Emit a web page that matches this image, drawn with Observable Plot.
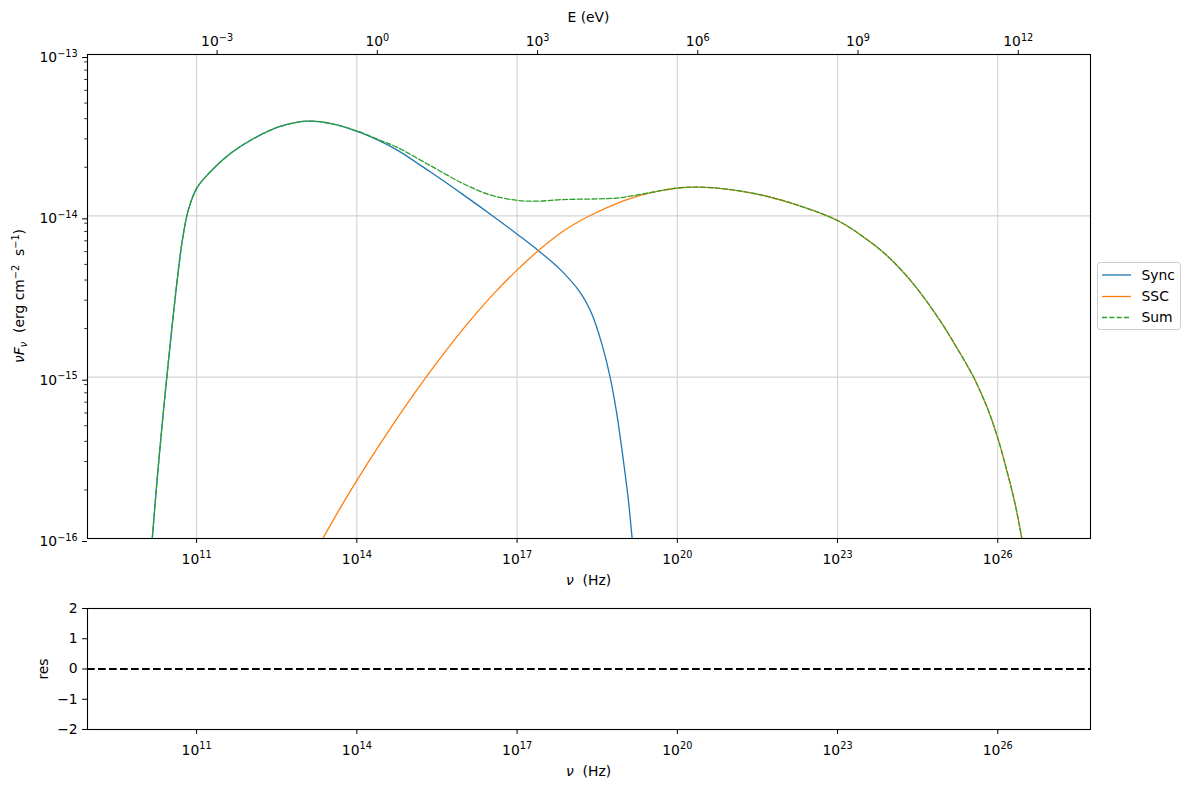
<!DOCTYPE html>
<html>
<head>
<meta charset="utf-8">
<script src="https://cdn.jsdelivr.net/npm/d3@7"></script>
<script src="https://cdn.jsdelivr.net/npm/@observablehq/plot@0.6"></script>
<style>
  html, body { margin: 0; padding: 0; background: white; }
  #wrap { position: relative; width: 1189px; height: 789px; overflow: hidden; }
  #wrap svg { position: absolute; left: 0; }
</style>
</head>
<body>
<div id="wrap"></div>
<script>
// ---- Data (log10 values) ----
const syncLogNu = [10.17, 10.255, 10.36, 10.442, 10.536, 10.629, 10.734, 10.846, 11.004, 11.253, 11.627, 12.063, 12.563, 13.063, 13.5, 14.018, 14.436, 14.748, 15.372, 15.995, 16.557, 17.014, 17.40, 17.806, 18.18, 18.40, 18.587, 18.742, 18.867, 18.991, 19.085, 19.154];
const syncLogF  = [-16.0, -15.657, -15.275, -15.0, -14.699, -14.420, -14.149, -13.963, -13.828, -13.728, -13.615, -13.522, -13.446, -13.413, -13.427, -13.478, -13.537, -13.591, -13.727, -13.870, -14.004, -14.117, -14.216, -14.332, -14.474, -14.608, -14.794, -15.0, -15.228, -15.518, -15.766, -16.0];

const sscLogNu = [13.363, 13.687, 14.018, 14.436, 14.872, 15.31, 15.746, 16.183, 16.621, 17.014, 17.40, 17.868, 18.368, 18.99, 19.43, 20.05, 20.43, 20.99, 21.613, 22.237, 22.998, 23.485, 23.923, 24.42, 24.92, 25.23, 25.55, 25.80, 25.996, 26.17, 26.325, 26.45];
const sscLogF  = [-16.0, -15.812, -15.631, -15.414, -15.198, -14.994, -14.803, -14.625, -14.462, -14.332, -14.215, -14.094, -13.998, -13.907, -13.862, -13.826, -13.822, -13.837, -13.874, -13.932, -14.029, -14.131, -14.246, -14.422, -14.650, -14.816, -15.002, -15.187, -15.373, -15.580, -15.787, -16.0];

const sumLogNu = [10.17, 10.255, 10.36, 10.442, 10.536, 10.629, 10.734, 10.846, 11.004, 11.253, 11.627, 12.063, 12.563, 13.063, 13.5, 14.018, 14.436, 14.748, 15.372, 15.995, 16.495, 17.014, 17.37, 17.868, 18.493, 18.867, 19.117, 19.43, 19.74, 20.05, 20.43, 20.99, 21.613, 22.237, 22.998, 23.485, 23.923, 24.42, 24.92, 25.23, 25.55, 25.80, 25.996, 26.17, 26.325, 26.45];
const sumLogF  = [-16.0, -15.657, -15.275, -15.0, -14.699, -14.420, -14.149, -13.963, -13.828, -13.728, -13.615, -13.522, -13.446, -13.413, -13.427, -13.476, -13.532, -13.574, -13.688, -13.801, -13.870, -13.905, -13.909, -13.899, -13.895, -13.890, -13.878, -13.860, -13.841, -13.826, -13.822, -13.837, -13.874, -13.932, -14.029, -14.131, -14.246, -14.422, -14.650, -14.816, -15.002, -15.187, -15.373, -15.580, -15.787, -16.0];

const seriesNames = ["Sync", "SSC", "Sum"];
const seriesColors = ["#1f77b4", "#ff7f0e", "#2ca02c"];

const nuTickExp = [11, 14, 17, 20, 23, 26];
const fluxTickExp = [-16, -15, -14, -13];
const eTickExp = [-3, 0, 3, 6, 9, 12];
const resTicks = [-2, -1, 0, 1, 2];
const xDomainExp = [8.957, 27.736];
const hEv = 4.135667696e-15; // Planck constant, eV s

// ---- Build tables ----
const rows = (lx, ly) => lx.map((v, i) => ({nu: 10 ** v, f: 10 ** ly[i]}));
const syncRows = rows(syncLogNu, syncLogF);
const sscRows = rows(sscLogNu, sscLogF);
const sumRows = rows(sumLogNu, sumLogF);

const xTicks = nuTickExp.map(k => 10 ** k);
const yTicks = fluxTickExp.map(k => 10 ** k);
const yMinor = [];
for (let k = -16; k < -13; k++) for (let m = 2; m <= 9; m++) yMinor.push(m * 10 ** k);
const eNuTicks = eTickExp.map(k => 10 ** k / hEv);

const minus = s => String(s).replace("-", "\u2212");
const fmtPow = d => "10^" + minus(Math.round(Math.log10(d)));
const fmtE = d => "10^" + minus(Math.round(Math.log10(d * hEv)));

const FS = 13.9;
const style = {fontFamily: "DejaVu Sans", fontSize: FS + "px", color: "black", background: "transparent", overflow: "visible"};
const xScale = {type: "log", domain: xDomainExp.map(v => 10 ** v), label: null};
const CURVE = "catmull-rom";

function supify(svg) {
  svg.querySelectorAll("text").forEach(t => {
    const m = t.textContent.match(/^10\^(.+)$/);
    if (!m) return;
    while (t.firstChild) t.removeChild(t.firstChild);
    const a = document.createElementNS("http://www.w3.org/2000/svg", "tspan");
    a.textContent = "10";
    const b = document.createElementNS("http://www.w3.org/2000/svg", "tspan");
    b.textContent = m[1];
    b.setAttribute("font-size", (FS * 0.7).toFixed(2) + "px");
    b.setAttribute("dy", "-5.3");
    t.appendChild(a); t.appendChild(b);
  });
}

// ---- Main panel ----
const main = Plot.plot({
  width: 1189, height: 596,
  marginLeft: 87, marginRight: 99, marginTop: 54, marginBottom: 58,
  style,
  x: xScale,
  y: {type: "log", domain: [1e-16, 1e-13], label: null},
  marks: [
    Plot.gridX({ticks: xTicks, stroke: "#d3d3d3", strokeOpacity: 1, strokeWidth: 1.1}),
    Plot.gridY({ticks: yTicks, stroke: "#d3d3d3", strokeOpacity: 1, strokeWidth: 1.1}),
    Plot.line(syncRows, {x: "nu", y: "f", stroke: seriesColors[0], strokeWidth: 1.3, curve: CURVE, clip: true}),
    Plot.line(sscRows, {x: "nu", y: "f", stroke: seriesColors[1], strokeWidth: 1.3, curve: CURVE, clip: true}),
    Plot.line(sumRows, {x: "nu", y: "f", stroke: seriesColors[2], strokeWidth: 1.3, strokeDasharray: "5.1,2.2", curve: CURVE, clip: true}),
    Plot.frame({stroke: "black", strokeWidth: 1.1}),
    Plot.axisX({ticks: xTicks, anchor: "bottom", tickSize: 4.9, tickPadding: 10.5, tickFormat: fmtPow, label: null}),
    Plot.axisX({ticks: eNuTicks, anchor: "top", tickSize: 4.9, tickPadding: 3.4, tickFormat: fmtE, label: null}),
    Plot.axisY({ticks: yTicks, anchor: "left", tickSize: 4.9, tickPadding: 4.9, tickFormat: fmtPow, dy: 3, label: null}),
    Plot.axisY({ticks: yMinor, anchor: "left", tickSize: 2.8, strokeWidth: 0.8, tickFormat: () => "", label: null})
  ]
});
main.style.top = "0px";
supify(main);

// ---- Residual panel ----
const res = Plot.plot({
  width: 1189, height: 193,
  marginLeft: 87, marginRight: 99, marginTop: 12, marginBottom: 60,
  style,
  x: xScale,
  y: {domain: [-2, 2], label: null},
  marks: [
    Plot.ruleY([0], {stroke: "black", strokeWidth: 2.1, strokeDasharray: "7.7,3.3"}),
    Plot.frame({stroke: "black", strokeWidth: 1.1}),
    Plot.axisX({ticks: xTicks, anchor: "bottom", tickSize: 4.9, tickPadding: 10.5, tickFormat: fmtPow, label: null}),
    Plot.axisY({ticks: resTicks, anchor: "left", tickSize: 4.9, tickPadding: 4.9, tickFormat: d => minus(d), label: null})
  ]
});
res.style.top = "596px";
supify(res);

const wrap = document.getElementById("wrap");
wrap.appendChild(main);
wrap.appendChild(res);

// ---- Labels ----
function addText(svg, x, y, parts, rotate) {
  const t = d3.select(svg).append("text")
    .attr("transform", `translate(${x},${y})` + (rotate ? " rotate(-90)" : ""))
    .attr("text-anchor", "middle")
    .attr("font-family", "DejaVu Sans")
    .attr("font-size", FS + "px")
    .attr("fill", "black");
  parts.forEach(p => {
    const s = t.append("tspan").text(p.t);
    if (p.i) s.attr("font-style", "italic");
    if (p.s) s.attr("font-size", (FS * 0.7).toFixed(2) + "px");
    if (p.dy) s.attr("dy", p.dy);
  });
  return t;
}
const NB = "\u00A0";
addText(main, 588.5, 21.7, [{t: "E (eV)"}]);
addText(main, 588.5, 585, [{t: "\u03BD", i: 1}, {t: NB + NB + "(Hz)"}]);
addText(main, 24, 296, [
  {t: "\u03BDF", i: 1}, {t: "\u03BD", i: 1, s: 1, dy: 3},
  {t: NB + NB + "(erg cm", dy: -3}, {t: "\u22122", s: 1, dy: -5.3},
  {t: NB + NB + "s", dy: 5.3}, {t: "\u22121", s: 1, dy: -5.3}, {t: ")", dy: 5.3}
], true);
addText(res, 48, 669 - 596, [{t: "res"}], true);
addText(res, 588.5, 776 - 596, [{t: "\u03BD", i: 1}, {t: NB + NB + "(Hz)"}]);

// ---- Legend ----
const lg = d3.select(main).append("g");
lg.append("rect").attr("x", 1097.5).attr("y", 262.5).attr("width", 83).attr("height", 67)
  .attr("rx", 3).attr("fill", "white").attr("fill-opacity", 0.8).attr("stroke", "#cccccc").attr("stroke-width", 1);
const rowsY = [275, 296.5, 317.5];
seriesNames.forEach((name, i) => {
  lg.append("line").attr("x1", 1102).attr("x2", 1131).attr("y1", rowsY[i]).attr("y2", rowsY[i])
    .attr("stroke", seriesColors[i]).attr("stroke-width", 1.3)
    .attr("stroke-dasharray", i === 2 ? "5.1,2.2" : null);
  lg.append("text").attr("x", 1141.5).attr("y", rowsY[i]).attr("dy", "0.35em")
    .attr("text-anchor", "start")
    .attr("font-family", "DejaVu Sans").attr("font-size", FS + "px").text(name);
});
</script>
</body>
</html>
